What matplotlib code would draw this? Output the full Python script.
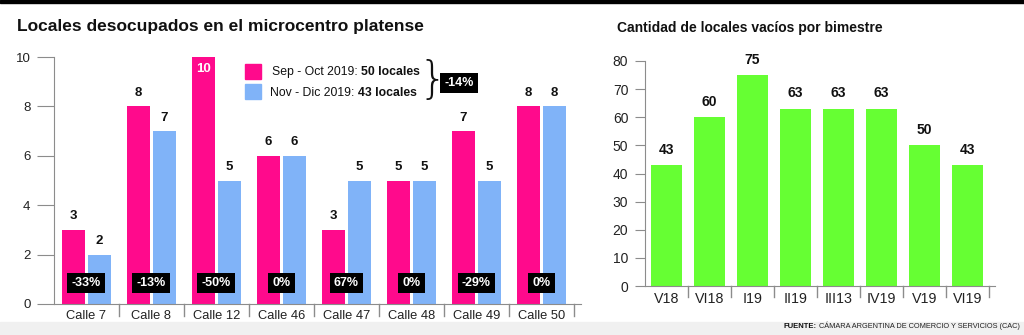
import matplotlib.pyplot as plt
from matplotlib.patches import Rectangle

plt.rcParams['font.family'] = ['Liberation Sans', 'DejaVu Sans']

# datos calles
calles = ['Calle 7', 'Calle 8', 'Calle 12', 'Calle 46', 'Calle 47', 'Calle 48', 'Calle 49', 'Calle 50']
sep_oct = [3, 8, 10, 6, 3, 5, 7, 8]
nov_dic = [2, 7, 5, 6, 5, 5, 5, 8]
variacion = ['-33%', '-13%', '-50%', '0%', '67%', '0%', '-29%', '0%']

# datos bimestres
bimestres = ['V18', 'VI18', 'I19', 'II19', 'III13', 'IV19', 'V19', 'VI19']
vacios = [43, 60, 75, 63, 63, 63, 50, 43]

pink = '#ff0a8c'
blue = '#80b3f8'
green = '#66ff33'
axis_col = '#8c8c8c'
W, H = 1024, 335

fig = plt.figure(figsize=(10.24, 3.35), dpi=100)
renderer = fig.canvas.get_renderer()

# barra negra arriba y banda gris abajo
fig.add_artist(Rectangle((0, 0.991), 1, 0.009, transform=fig.transFigure, color='black'))
fig.add_artist(Rectangle((0, 0), 1, 0.04, transform=fig.transFigure, color='#f0f0f0'))


def text_px(xp, yp, s, ha='left', **kw):
    # texto en pixeles desde arriba a la izquierda, devuelve la caja
    t = fig.text(xp / W, 1 - yp / H, s, va='center', ha=ha, **kw)
    return t.get_window_extent(renderer)


def style_axes(ax, n, ylen):
    for s in ['top', 'right']:
        ax.spines[s].set_visible(False)
    ax.spines['left'].set_color(axis_col)
    ax.spines['bottom'].set_color(axis_col)
    ax.tick_params(axis='y', length=ylen, color=axis_col, labelcolor='#222222', labelsize=9.5, pad=5)
    ax.tick_params(axis='x', length=0, labelcolor='#222222', pad=4)
    # separadores entre categorias
    for k in range(1, n + 1):
        ax.plot([k - 0.5, k - 0.5], [0, -0.05], transform=ax.get_xaxis_transform(),
                color=axis_col, lw=1, clip_on=False)


# ---------- grafico izquierdo ----------
ax1 = fig.add_axes([54 / W, 31 / H, 527 / W, 247 / H])
x = list(range(len(calles)))
w = 0.355
off = 0.2
b1 = ax1.bar([i - off for i in x], sep_oct, w, color=pink)
b2 = ax1.bar([i + off for i in x], nov_dic, w, color=blue)
ax1.set_xlim(-0.5, 7.61)
ax1.set_ylim(0, 10)
ax1.set_yticks([0, 2, 4, 6, 8, 10])
ax1.set_xticks(x)
ax1.set_xticklabels(calles, fontsize=9.3)
style_axes(ax1, len(calles), 12)

for rects in (b1, b2):
    for r in rects:
        h = r.get_height()
        xc = r.get_x() + r.get_width() / 2
        if h >= 10:
            ax1.text(xc, h - 0.25, f'{h:g}', ha='center', va='top', color='white',
                     fontsize=9.5, fontweight='bold')
        else:
            ax1.text(xc, h + 0.3, f'{h:g}', ha='center', va='bottom', color='#111111',
                     fontsize=9.5, fontweight='bold')

for i, v in enumerate(variacion):
    ax1.text(i, 0.85, v, ha='center', va='center', color='white', fontsize=9,
             fontweight='bold', bbox=dict(boxstyle='square,pad=0.35', fc='black', ec='none'))

text_px(17, 26, 'Locales desocupados en el microcentro platense',
        fontsize=12.5, fontweight='bold', color='#111111')

# leyenda
fig.add_artist(Rectangle((245 / W, 1 - 79 / H), 16 / W, 15 / H,
                         transform=fig.transFigure, color=pink))
fig.add_artist(Rectangle((245 / W, 1 - 99 / H), 16 / W, 15 / H,
                         transform=fig.transFigure, color=blue))
bb = text_px(272, 72, 'Sep - Oct 2019: ', fontsize=8.8, color='#111111')
text_px(bb.x1, 72, '50 locales', fontsize=8.8, fontweight='bold', color='#111111')
bb = text_px(270, 93, 'Nov - Dic 2019: ', fontsize=8.8, color='#111111')
text_px(bb.x1, 93, '43 locales', fontsize=8.8, fontweight='bold', color='#111111')
fig.text(418 / W, 1 - 80 / H, '}', fontsize=32, va='center', ha='left', color='#111111',
         family='DejaVu Sans', fontweight='light')
fig.text(459 / W, 1 - 83 / H, '-14%', fontsize=9, fontweight='bold', color='white',
         ha='center', va='center', bbox=dict(boxstyle='square,pad=0.35', fc='black', ec='none'))

# ---------- grafico derecho ----------
ax2 = fig.add_axes([645 / W, 49 / H, 350 / W, 225 / H])
x2 = list(range(len(bimestres)))
b3 = ax2.bar(x2, vacios, 0.72, color=green)
ax2.set_xlim(-0.5, 7.64)
ax2.set_ylim(0, 80)
ax2.set_yticks(range(0, 81, 10))
ax2.set_xticks(x2)
ax2.set_xticklabels(bimestres, fontsize=10.3)
style_axes(ax2, len(bimestres), 7)
ax2.tick_params(axis='y', labelsize=10)

for r in b3:
    h = r.get_height()
    ax2.text(r.get_x() + r.get_width() / 2, h + 3, f'{h:g}', ha='center', va='bottom',
             color='#111111', fontsize=10, fontweight='bold')

text_px(617, 28, 'Cantidad de locales vacíos por bimestre',
        fontsize=10, fontweight='bold', color='#111111')

# fuente, alineada a la derecha
bb = text_px(1020, 326, 'CÁMARA ARGENTINA DE COMERCIO Y SERVICIOS (CAC)', ha='right',
             fontsize=5.3, color='#222222')
text_px(bb.x0 - 2, 326, 'FUENTE:', ha='right', fontsize=5.5, fontweight='bold', color='#111111')

fig.savefig('out.png', dpi=100)
